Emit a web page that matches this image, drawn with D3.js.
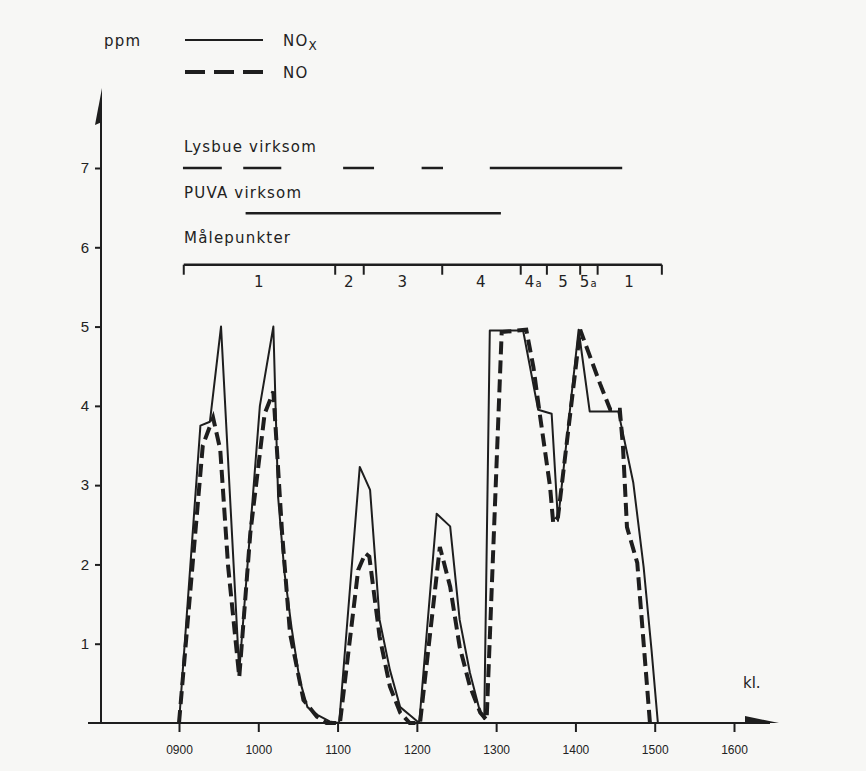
<!doctype html>
<html>
<head>
<meta charset="utf-8">
<script src="https://d3js.org/d3.v7.min.js"></script>
<style>
  body { margin: 0; background: #f7f7f5; }
  svg { font-family: 'DejaVu Sans', sans-serif; fill: #222; }
  path.nox { fill: none; stroke: #1e1e1e; stroke-width: 2px; stroke-linejoin: round; }
  path.no { fill: none; stroke: #1e1e1e; stroke-width: 4px; stroke-dasharray: 13,6; }
  .axis path, .axis line { stroke: #1e1e1e; stroke-width: 2px; }
  .axis text { fill: #222; font-size: 15px; }
  .xaxis text { font-size: 12px; }
  .bar { stroke: #1e1e1e; stroke-width: 2.5px; fill: none; }
  .lbl { font-size: 15px; letter-spacing: 1.2px; fill: #222; }
</style>
</head>
<body>
<svg width="866" height="771"></svg>
<script>
// NOx (solid) - time in hours, ppm
var noxTime = [9.00, 9.27, 9.39, 9.53, 9.76, 10.02, 10.19, 10.25, 10.33, 10.42, 10.52, 10.62, 10.75, 10.90,
  11.02, 11.28, 11.41, 11.53, 11.66, 11.79, 11.91, 12.03, 12.25, 12.42, 12.54, 12.67, 12.80, 12.85,
  12.92, 13.34, 13.53, 13.70, 13.78, 14.04, 14.18, 14.54, 14.60, 14.73, 14.86, 14.96, 15.04];
var noxPpm = [0, 3.75, 3.8, 5.0, 0.65, 4.0, 5.0, 2.85, 1.9, 1.2, 0.55, 0.2, 0.1, 0.02,
  0, 3.23, 2.94, 1.3, 0.67, 0.2, 0.1, 0, 2.64, 2.48, 1.3, 0.63, 0.13, 0.05,
  4.95, 4.95, 3.95, 3.9, 2.55, 4.96, 3.93, 3.93, 3.65, 3.03, 1.97, 0.92, 0];

// NO (dashed)
var noTime = [9.00, 9.30, 9.43, 9.52, 9.62, 9.76, 9.90, 10.08, 10.19, 10.30, 10.40, 10.57, 10.74, 10.86,
  11.03, 11.26, 11.35, 11.40, 11.53, 11.66, 11.79, 11.91, 12.04, 12.29, 12.42, 12.54, 12.67, 12.80, 12.88,
  13.07, 13.38, 13.47, 13.55, 13.68, 13.72, 13.78, 14.06, 14.31, 14.44, 14.56, 14.60, 14.65, 14.78, 14.94];
var noPpm = [0, 3.5, 3.85, 3.45, 1.97, 0.58, 2.4, 3.9, 4.18, 2.4, 1.13, 0.29, 0.08, 0,
  0, 1.93, 2.14, 2.1, 1.09, 0.46, 0.13, 0, 0, 2.22, 1.72, 0.96, 0.46, 0.13, 0.04,
  4.93, 4.96, 4.49, 3.9, 2.98, 2.52, 2.6, 4.96, 4.28, 3.95, 3.95, 3.48, 2.47, 2.02, 0];

var hourTicks = [9, 10, 11, 12, 13, 14, 15, 16];
var hourLabels = ["0900", "1000", "1100", "1200", "1300", "1400", "1500", "1600"];
var ppmTicks = [1, 2, 3, 4, 5, 6, 7];

// Lysbue virksom (arc on) periods
var lysbueStart = [9.05, 9.81, 11.07, 12.06, 12.92];
var lysbueEnd   = [9.54, 10.29, 11.46, 12.33, 14.59];
// PUVA virksom period
var puvaStart = [9.84];
var puvaEnd   = [13.06];
// Målepunkter - boundaries and names
var pointBreaks = [9.06, 10.97, 11.33, 12.32, 13.31, 13.64, 14.06, 14.28, 15.09];
var pointNames = ["1", "2", "3", "4", "4a", "5", "5a", "1"];

var svg = d3.select("svg");
var x = d3.scaleLinear().domain([9, 16]).range([179, 734]);
var y = d3.scaleLinear().domain([0, 7]).range([723, 168]);

// axes
var xAxis = svg.append("g").attr("class", "axis xaxis")
  .attr("transform", "translate(0," + y(0) + ")")
  .call(d3.axisBottom(x).tickValues(hourTicks).tickSize(9).tickPadding(13)
    .tickFormat(function (d, i) { return hourLabels[i]; }));
xAxis.select(".domain").remove();
svg.append("line").attr("x1", 88).attr("x2", 770).attr("y1", y(0)).attr("y2", y(0))
  .attr("stroke", "#1e1e1e").attr("stroke-width", 2);
svg.append("path").attr("d", "M745," + (y(0) - 7) + " L779," + y(0) + " L745," + y(0) + " Z").attr("fill", "#1e1e1e");
svg.append("text").attr("x", 743).attr("y", y(0) - 35).attr("font-size", 15).text("kl.");

var yAxis = svg.append("g").attr("class", "axis")
  .attr("transform", "translate(101,0)")
  .call(d3.axisLeft(y).tickValues(ppmTicks).tickSize(6).tickPadding(6).tickFormat(d3.format("d")));
yAxis.select(".domain").remove();
svg.append("line").attr("x1", 101).attr("x2", 101).attr("y1", y(0)).attr("y2", 115)
  .attr("stroke", "#1e1e1e").attr("stroke-width", 2);
svg.append("path").attr("d", "M102,88 L102,122 L95,125 Z").attr("fill", "#1e1e1e");

// legend
svg.append("text").attr("class", "lbl").attr("x", 104).attr("y", 46).text("ppm");
svg.append("line").attr("x1", 185).attr("x2", 263).attr("y1", 40).attr("y2", 40)
  .attr("stroke", "#1e1e1e").attr("stroke-width", 2);
var t1 = svg.append("text").attr("class", "lbl").attr("x", 283).attr("y", 46).text("NO");
t1.append("tspan").attr("font-size", 12).attr("dy", 4).text("X");
svg.append("line").attr("x1", 185).attr("x2", 263).attr("y1", 72).attr("y2", 72)
  .attr("stroke", "#1e1e1e").attr("stroke-width", 4).attr("stroke-dasharray", "20,9");
svg.append("text").attr("class", "lbl").attr("x", 283).attr("y", 78).text("NO");

// activity bars
var lysY = y(7), puvaY = y(6.43), ptY = y(5.78);
svg.append("text").attr("class", "lbl").attr("x", 184).attr("y", lysY - 16).text("Lysbue virksom");
svg.selectAll(".lys").data(lysbueStart).enter().append("line").attr("class", "bar")
  .attr("x1", function (d) { return x(d); })
  .attr("x2", function (d, i) { return x(lysbueEnd[i]); })
  .attr("y1", lysY).attr("y2", lysY);

svg.append("text").attr("class", "lbl").attr("x", 184).attr("y", puvaY - 15).text("PUVA virksom");
svg.selectAll(".puva").data(puvaStart).enter().append("line").attr("class", "bar")
  .attr("x1", function (d) { return x(d); })
  .attr("x2", function (d, i) { return x(puvaEnd[i]); })
  .attr("y1", puvaY).attr("y2", puvaY);

svg.append("text").attr("class", "lbl").attr("x", 184).attr("y", ptY - 22).text("Målepunkter");
svg.append("line").attr("class", "bar")
  .attr("x1", x(pointBreaks[0])).attr("x2", x(pointBreaks[pointBreaks.length - 1]))
  .attr("y1", ptY).attr("y2", ptY);
svg.selectAll(".ptick").data(pointBreaks).enter().append("line")
  .attr("stroke", "#1e1e1e").attr("stroke-width", 2)
  .attr("x1", function (d) { return x(d); }).attr("x2", function (d) { return x(d); })
  .attr("y1", ptY).attr("y2", ptY + 10);
var ptText = svg.selectAll(".pname").data(pointNames).enter().append("text")
  .attr("class", "lbl").attr("text-anchor", "middle")
  .attr("x", function (d, i) { return x((pointBreaks[i] + pointBreaks[i + 1]) / 2); })
  .attr("y", ptY + 22);
ptText.text(function (d) { return d.charAt(0); });
ptText.filter(function (d) { return d.length > 1; })
  .append("tspan").attr("font-size", 10).text(function (d) { return d.slice(1); });

// data lines
var line = d3.line().x(function (d) { return x(d[0]); }).y(function (d) { return y(d[1]); });
svg.append("path").attr("class", "nox")
  .datum(noxTime.map(function (t, i) { return [t, noxPpm[i]]; })).attr("d", line);
svg.append("path").attr("class", "no")
  .datum(noTime.map(function (t, i) { return [t, noPpm[i]]; })).attr("d", line);
</script>
</body>
</html>
